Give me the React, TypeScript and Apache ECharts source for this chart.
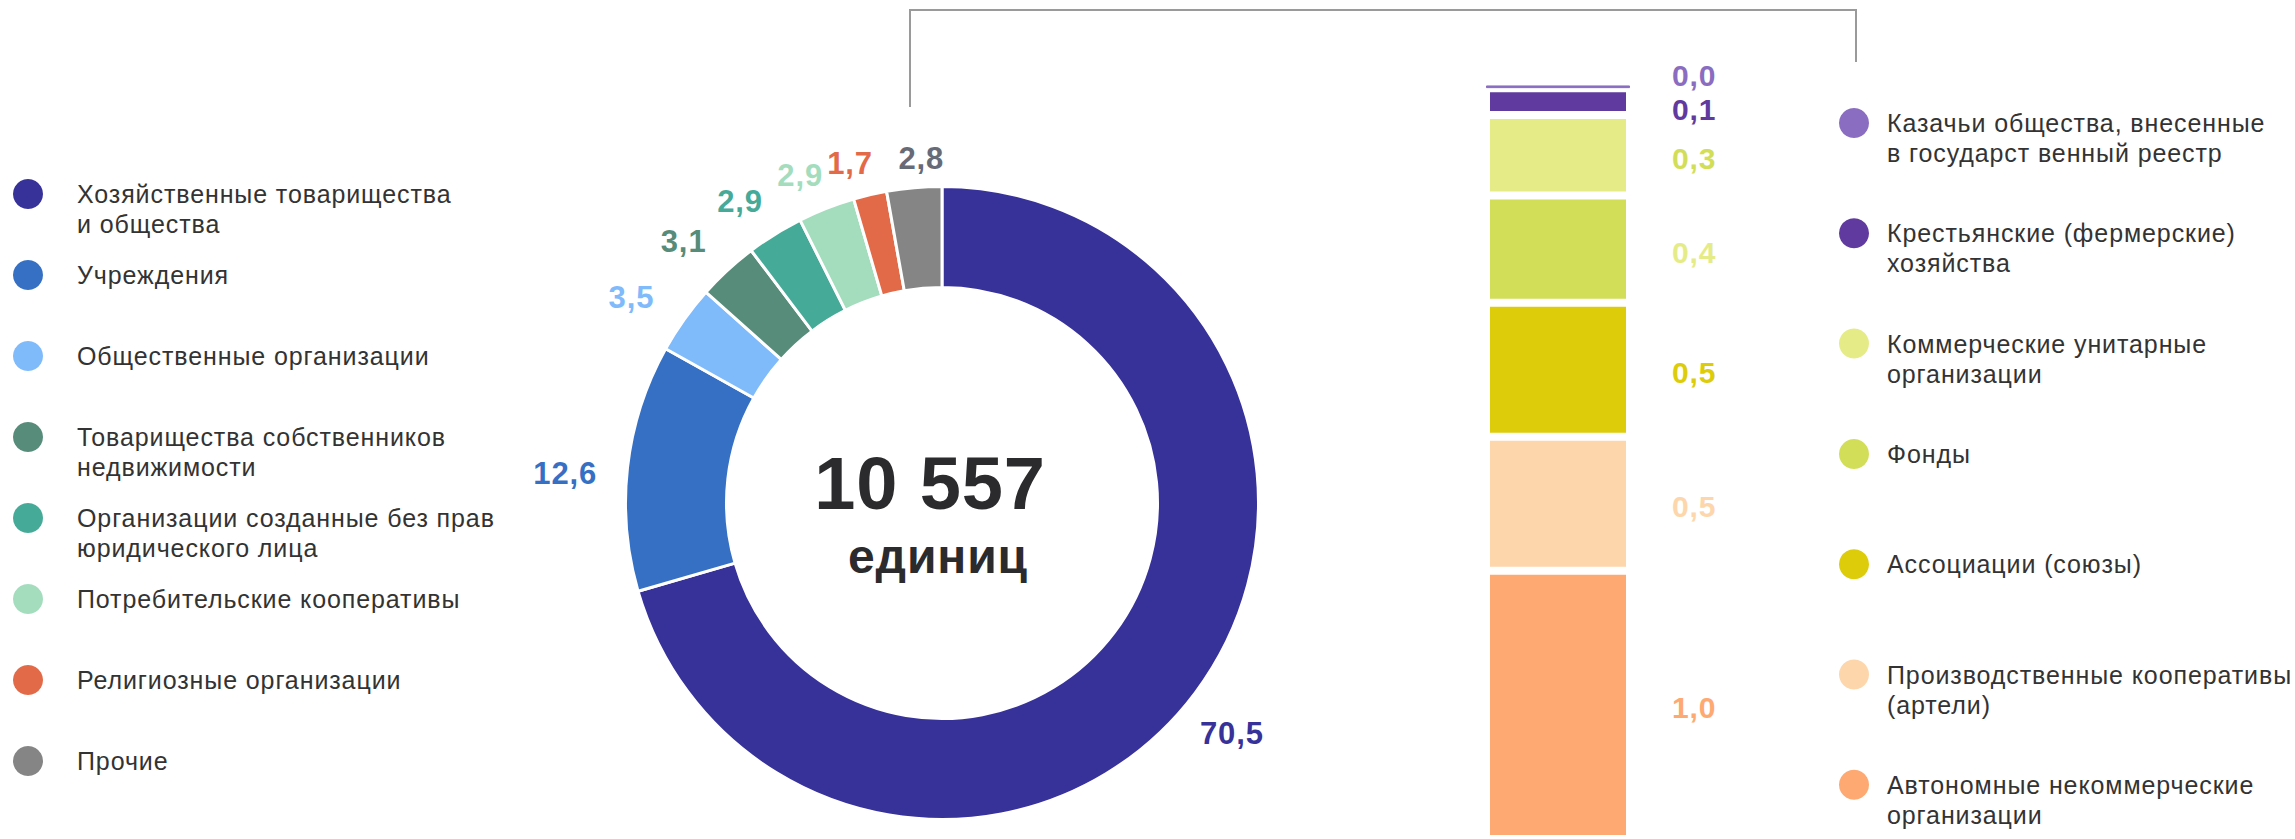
import React, { useEffect, useRef } from 'react';
import * as echarts from 'echarts';

// ---------- data ----------
const pieNames = [
  'Хозяйственные товарищества\nи общества',
  'Учреждения',
  'Общественные организации',
  'Товарищества собственников\nнедвижимости',
  'Организации созданные без прав\nюридического лица',
  'Потребительские кооперативы',
  'Религиозные организации',
  'Прочие',
];
const pieValues = [70.5, 12.6, 3.5, 3.1, 2.9, 2.9, 1.7, 2.8];
const pieColors = ['#37319A', '#3670C4', '#7FBAFB', '#568C79', '#46AA98', '#A3DDBD', '#E36A48', '#858585'];
const pieLabelColors = ['#37319A', '#3670C4', '#7FBAFB', '#568C79', '#46AA98', '#A3DDBD', '#E36A48', '#676B78'];

const totalUnits = '10 557';
const unitsLabel = 'единиц';

const barCategory = ['Прочие'];
const barNames = [
  'Казачьи общества, внесенные\nв государст венный реестр',
  'Крестьянские (фермерские)\nхозяйства',
  'Коммерческие унитарные\nорганизации',
  'Фонды',
  'Ассоциации (союзы)',
  'Производственные кооперативы\n(артели)',
  'Автономные некоммерческие\nорганизации',
];
const barValues = [0.01, 0.1, 0.3, 0.4, 0.5, 0.5, 1.0];
const barColors = ['#8A6DC1', '#613A9F', '#E5EC87', '#D2DE57', '#DDCC0A', '#FDD6AC', '#FEA972'];
const barLabelColors = ['#8A6DC1', '#613A9F', '#D2DE57', '#E5EC87', '#DDCC0A', '#FDD6AC', '#FEA972'];

// ---------- styles ----------
const FONT = '"Liberation Sans", Arial, sans-serif';
const TEXT_COLOR = '#333333';
const fmt = (v: number) => v.toFixed(1).replace('.', ',');

export default function App() {
  const ref = useRef<HTMLDivElement>(null);

  useEffect(() => {
    if (!ref.current) return;
    const chart = echarts.init(ref.current, undefined, { renderer: 'svg' });

    const pieCenter = [942, 503];

    // mid angle (clockwise from 12 o'clock) of every slice, from the data
    const total = pieValues.reduce((a, b) => a + b, 0);
    const midAngles: number[] = [];
    let acc = 0;
    pieValues.forEach((v) => {
      midAngles.push(((acc + v / 2) / total) * Math.PI * 2);
      acc += v;
    });
    // label distance from centre: closer at the top, further at the sides
    const labelBase = 343;
    const labelSide = 35;
    const DEG = Math.PI / 180;

    const graphic: any[] = [];
    // connector line
    graphic.push({
      type: 'polyline',
      shape: { points: [[910, 107], [910, 10], [1856, 10], [1856, 62]] },
      style: { stroke: '#9A9A9A', lineWidth: 2, fill: 'none' },
      silent: true,
    });
    // center text
    graphic.push({
      type: 'text', x: 930, y: 483,
      style: { text: totalUnits, fontSize: 74, fontWeight: 'bold', fontFamily: FONT, fill: '#2B2B2E', align: 'center', verticalAlign: 'middle' },
    });
    graphic.push({
      type: 'text', x: 938, y: 556,
      style: { text: unitsLabel, fontSize: 48, fontWeight: 'bold', fontFamily: FONT, fill: '#2B2B2E', align: 'center', verticalAlign: 'middle' },
    });
    // left legend
    pieNames.forEach((name, i) => {
      const cy = 194 + i * 81;
      graphic.push({ type: 'circle', shape: { cx: 28, cy, r: 15 }, style: { fill: pieColors[i] } });
      graphic.push({
        type: 'text', x: 77, y: cy - 15,
        style: { text: name, fontSize: 25, fontFamily: FONT, fill: TEXT_COLOR, lineHeight: 30, verticalAlign: 'top', align: 'left' },
      });
    });
    // right legend
    barNames.forEach((name, i) => {
      const cy = 123 + i * 110.3;
      graphic.push({ type: 'circle', shape: { cx: 1854, cy, r: 15 }, style: { fill: barColors[i] } });
      graphic.push({
        type: 'text', x: 1887, y: cy - 15,
        style: { text: name, fontSize: 25, fontFamily: FONT, fill: TEXT_COLOR, lineHeight: 30, verticalAlign: 'top', align: 'left' },
      });
    });

    const labelOffsets: Record<number, number[]> = { 0: [0, -11], 1: [0, 8] };

    const barSeries = barNames
      .map((name, i) => ({
        type: 'bar',
        name,
        stack: 'other',
        barWidth: 144,
        data: [barValues[i]],
        itemStyle: i === 0
          ? { color: barColors[i], borderColor: barColors[i], borderWidth: 1 }
          : { color: barColors[i], borderColor: '#FFFFFF', borderWidth: 4 },
        label: {
          show: true,
          position: 'right',
          distance: 42,
          offset: labelOffsets[i] || [0, 3],
          color: barLabelColors[i],
          fontSize: 30,
          fontWeight: 'bold',
          fontFamily: FONT,
          formatter: (p: any) => fmt(p.value),
        },
        silent: true,
      }))
      .reverse();

    const option: any = {
      animation: false,
      backgroundColor: '#FFFFFF',
      grid: { left: 1486, width: 144, top: 34.5, height: 810 },
      xAxis: { type: 'category', data: barCategory, show: false },
      yAxis: { type: 'value', min: 0, max: 3, show: false },
      graphic,
      series: [
        {
          type: 'pie',
          center: pieCenter,
          radius: [215.5, 316.5],
          startAngle: 90,
          clockwise: true,
          avoidLabelOverlap: false,
          silent: true,
          label: {
            show: true,
            position: 'outside',
            fontSize: 31,
            fontWeight: 'bold',
            fontFamily: FONT,
            formatter: (p: any) => fmt(p.value),
          },
          labelLine: { show: false },
          labelLayout: (p: any) => {
            const mid = midAngles[p.dataIndex];
            // labels on the upper left are turned a little anticlockwise, the others clockwise
            const a = mid + (Math.sin(mid) < -0.2 ? -2 : 1.6) * DEG;
            const s = Math.sin(a);
            const c = Math.cos(a);
            const d = labelBase + labelSide * Math.abs(s);
            return {
              x: pieCenter[0] + d * s,
              y: pieCenter[1] - d * c,
              align: 'center',
              verticalAlign: 'middle',
            };
          },
          itemStyle: { borderColor: '#FFFFFF', borderWidth: 3 },
          data: pieValues.map((v, i) => ({
            value: v,
            name: pieNames[i],
            itemStyle: { color: pieColors[i] },
            label: { color: pieLabelColors[i] },
          })),
        },
        ...barSeries,
      ],
    };

    chart.setOption(option);
    return () => chart.dispose();
  }, []);

  return (
    <div
      ref={ref}
      style={{ position: 'absolute', left: 0, top: 0, width: 2295, height: 839, letterSpacing: '0.9px' }}
    />
  );
}
